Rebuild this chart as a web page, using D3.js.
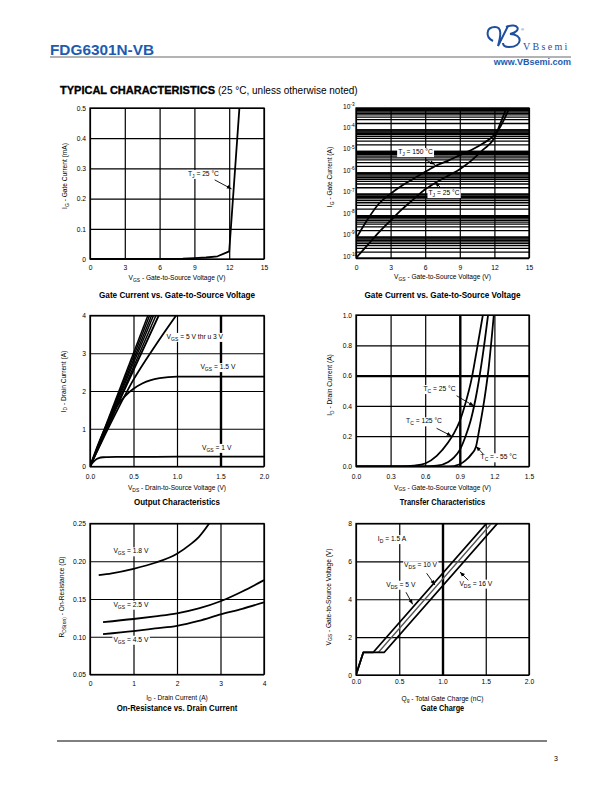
<!DOCTYPE html>
<html>
<head>
<meta charset="utf-8">
<script src="https://cdn.jsdelivr.net/npm/d3@7"></script>
<style>
  body { margin: 0; background: #fff; }
  svg { font-family: "Liberation Sans", Arial, Helvetica, sans-serif; }
</style>
</head>
<body>
<svg id="page" width="612" height="792"></svg>
<script>
// ---- gate current, linear (mA)
var gcVgs = [0, 3, 6, 8, 9, 10, 11, 12, 12.4, 12.88];
var gcIg = [0, 0, 0.0005, 0.0015, 0.003, 0.005, 0.009, 0.025, 0.24, 0.5];
var gcXTicks = [0, 3, 6, 9, 12, 15];
var gcXLabels = ["0", "3", "6", "9", "12", "15"];
var gcYTicks = [0, 0.1, 0.2, 0.3, 0.4, 0.5];
var gcYLabels = ["0", "0.1", "0.2", "0.3", "0.4", "0.5"];

// ---- gate current, log (A)
var glVgs25 = [0, 1, 2, 3, 4, 5, 6, 7, 8, 9, 10, 11, 12, 12.5, 13.05];
var glIg25 = [1e-10, 4e-10, 1.6e-9, 5.6e-9, 1.9e-8, 5.6e-8, 1.6e-7, 3.5e-7, 7e-7, 1.4e-6, 3.5e-6, 1.1e-5, 4e-5, 1.8e-4, 1e-3];
var glVgs150 = [0, 1, 2, 3, 4, 5, 6, 7, 8, 9, 10, 11, 12, 12.5, 13.3];
var glIg150 = [8e-10, 6.3e-9, 3.5e-8, 1e-7, 2.4e-7, 5e-7, 1.05e-6, 2.1e-6, 3.5e-6, 6.3e-6, 1.1e-5, 2.2e-5, 5.6e-5, 1.3e-4, 1e-3];
var glYTicks = [1e-10, 1e-9, 1e-8, 1e-7, 1e-6, 1e-5, 1e-4, 1e-3];
var glYLabels = ["10^{-10}", "10^{-9}", "10^{-8}", "10^{-7}", "10^{-6}", "10^{-5}", "10^{-4}", "10^{-3}"];

// ---- output characteristics
var ocVds5 = [0, 0.665], ocId5 = [0, 4];
var ocVds45 = [0, 0.685], ocId45 = [0, 4];
var ocVds4 = [0, 0.708], ocId4 = [0, 4];
var ocVds35 = [0, 0.73], ocId35 = [0, 4];
var ocVds3 = [0, 0.758], ocId3 = [0, 4];
var ocVds25 = [0, 0.4, 0.79], ocId25 = [0, 2.05, 4];
var ocVds2 = [0, 0.25, 0.5, 0.75, 0.99], ocId2 = [0, 1.2, 2.3, 3.2, 4];
var ocVds15 = [0, 0.1, 0.2, 0.3, 0.4, 0.5, 0.6, 0.7, 0.8, 0.9, 1.0, 1.5, 2.0];
var ocId15 = [0, 0.62, 1.15, 1.57, 1.86, 2.06, 2.2, 2.29, 2.34, 2.37, 2.38, 2.38, 2.38];
var ocVds1 = [0, 0.03, 0.06, 0.1, 0.15, 0.2, 0.3, 0.5, 1.0, 1.5, 2.0];
var ocId1 = [0, 0.1, 0.17, 0.22, 0.245, 0.25, 0.255, 0.255, 0.26, 0.26, 0.26];
var ocXTicks = [0, 0.5, 1, 1.5, 2];
var ocXLabels = ["0.0", "0.5", "1.0", "1.5", "2.0"];
var ocYTicks = [0, 1, 2, 3, 4];
var ocYLabels = ["0", "1", "2", "3", "4"];

// ---- transfer characteristics
var tcVgs125 = [0, 0.4, 0.5, 0.6, 0.7, 0.8, 0.85, 0.9, 0.95, 1.0, 1.05, 1.1];
var tcId125 = [0, 0, 0.005, 0.02, 0.07, 0.16, 0.22, 0.3, 0.42, 0.57, 0.78, 1.0];
var tcVgs25 = [0, 0.6, 0.7, 0.8, 0.85, 0.9, 0.95, 1.0, 1.05, 1.1, 1.145];
var tcId25 = [0, 0, 0.005, 0.03, 0.06, 0.11, 0.2, 0.32, 0.5, 0.74, 1.0];
var tcVgsM55 = [0, 0.8, 0.9, 0.95, 1.0, 1.04, 1.07, 1.1, 1.15, 1.195];
var tcIdM55 = [0, 0, 0.015, 0.04, 0.08, 0.13, 0.25, 0.38, 0.65, 1.0];
var tcXTicks = [0, 0.3, 0.6, 0.9, 1.2, 1.5];
var tcXLabels = ["0.0", "0.3", "0.6", "0.9", "1.2", "1.5"];
var tcYTicks = [0, 0.2, 0.4, 0.6, 0.8, 1.0];
var tcYLabels = ["0.0", "0.2", "0.4", "0.6", "0.8", "1.0"];

// ---- on-resistance vs drain current
var orId18 = [0.2, 0.5, 1.0, 1.5, 2.0, 2.3, 2.5, 2.74];
var orR18 = [0.1815, 0.184, 0.19, 0.198, 0.21, 0.222, 0.232, 0.25];
var orId25 = [0.3, 1, 1.5, 2, 2.5, 3, 3.5, 4];
var orR25 = [0.1195, 0.1235, 0.127, 0.131, 0.1375, 0.147, 0.16, 0.175];
var orId45 = [0.3, 1, 1.5, 2, 2.5, 3, 3.5, 4];
var orR45 = [0.1035, 0.1075, 0.111, 0.1145, 0.121, 0.1295, 0.137, 0.1455];
var orXTicks = [0, 1, 2, 3, 4];
var orXLabels = ["0", "1", "2", "3", "4"];
var orYTicks = [0.05, 0.10, 0.15, 0.20, 0.25];
var orYLabels = ["0.05", "0.10", "0.15", "0.20", "0.25"];

// ---- gate charge
var qgQ5 = [0, 0.085, 0.2, 1.508], qgV5 = [0, 1.2, 1.2, 8];
var qgQ10 = [0, 0.085, 0.26, 1.565], qgV10 = [0, 1.2, 1.2, 8];
var qgQ16 = [0, 0.085, 0.327, 1.635], qgV16 = [0, 1.2, 1.2, 8];
var qgXTicks = [0, 0.5, 1, 1.5, 2];
var qgXLabels = ["0.0", "0.5", "1.0", "1.5", "2.0"];
var qgYTicks = [0, 2, 4, 6, 8];
var qgYLabels = ["0", "2", "4", "6", "8"];

var blue = "#1d5bb0";
var svg = d3.select("#page");

// arrowhead
svg.append("defs").append("marker")
  .attr("id", "arr").attr("viewBox", "0 0 10 10")
  .attr("refX", 10).attr("refY", 5)
  .attr("markerWidth", 5).attr("markerHeight", 5)
  .attr("markerUnits", "userSpaceOnUse")
  .attr("orient", "auto")
  .append("path").attr("d", "M0,1 L10,5 L0,9 Z").attr("fill", "#000");

// text with _{sub} and ^{sup}
function rich(sel, str, size) {
  var off = 0;
  str.split(/(_\{[^}]*\}|\^\{[^}]*\})/).forEach(function (p) {
    if (!p) return;
    var d = 0, s = size, t = p;
    if (p[0] === "_") { d = size * 0.3; s = size * 0.75; t = p.slice(2, -1); }
    if (p[0] === "^") { d = -size * 0.4; s = size * 0.72; t = p.slice(2, -1); }
    sel.append("tspan").attr("dy", d - off).attr("font-size", s).text(t);
    off = d;
  });
}

function zip(xs, ys) {
  return xs.map(function (v, i) { return [v, ys[i]]; });
}

// ---- header
svg.append("text").attr("x", 50).attr("y", 55)
  .attr("font-size", 15.5).attr("font-weight", "bold").attr("fill", blue)
  .attr("textLength", 104).attr("lengthAdjust", "spacingAndGlyphs")
  .text("FDG6301N-VB");
svg.append("line").attr("x1", 50).attr("x2", 571).attr("y1", 57).attr("y2", 57)
  .attr("stroke", "#9a9a9a").attr("stroke-width", 1.5);
svg.append("path")
  .attr("d", "M493,41 C485,37 486,27 495,27 C502,27 501,35 498,46 L508,26")
  .attr("fill", "none").attr("stroke", "#1d4f9c").attr("stroke-width", 2);
svg.append("path")
  .attr("d", "M506,27 C518,22 523,31 510,34 C523,34 523,47 509,47 C505,47 503,45 503,43")
  .attr("fill", "none").attr("stroke", "#1d4f9c").attr("stroke-width", 2);
svg.append("text").attr("x", 523).attr("y", 50)
  .attr("font-family", "'Liberation Serif', 'DejaVu Serif', serif")
  .attr("font-size", 10).attr("letter-spacing", 2.3).attr("fill", "#1d4f9c")
  .text("VBsemi");
svg.append("text").attr("x", 521).attr("y", 31).attr("font-size", 4).attr("fill", "#1d4f9c").text("®");
svg.append("text").attr("x", 571).attr("y", 65).attr("text-anchor", "end")
  .attr("font-size", 9).attr("font-weight", "bold").attr("fill", blue)
  .text("www.VBsemi.com");

var hdr = svg.append("text").attr("x", 60).attr("y", 94).attr("font-size", 10);
hdr.append("tspan").attr("font-weight", "bold").attr("textLength", 155)
  .attr("lengthAdjust", "spacingAndGlyphs").attr("stroke", "#000").attr("stroke-width", 0.3)
  .text("TYPICAL CHARACTERISTICS");
hdr.append("tspan").attr("x", 218).text("(25 °C, unless otherwise noted)");

// footer
svg.append("line").attr("x1", 57).attr("x2", 547).attr("y1", 741).attr("y2", 741)
  .attr("stroke", "#000").attr("stroke-width", 1);
svg.append("text").attr("x", 556).attr("y", 761).attr("text-anchor", "middle")
  .attr("font-size", 7).text("3");

// ---- chart builder
function drawChart(c) {
  var g = svg.append("g");
  var bottom = c.top + c.height;
  var x = d3.scaleLinear().domain(c.xDomain).range([c.left, c.left + c.width]);
  var y = (c.log ? d3.scaleLog() : d3.scaleLinear()).domain(c.yDomain).range([bottom, c.top]);
  var thickX = c.thickX || [], thickY = c.thickY || [];

  if (c.log) {
    g.append("g").attr("transform", "translate(" + c.left + ",0)")
      .call(d3.axisLeft(y).tickValues(y.ticks()).tickSize(-c.width).tickFormat(""))
      .call(function (a) { a.select(".domain").remove(); })
      .selectAll("line").attr("stroke", "#000").attr("stroke-width", 1.3);
  }

  var xa = g.append("g").attr("transform", "translate(0," + bottom + ")")
    .call(d3.axisBottom(x).tickValues(c.xTicks).tickSize(-c.height)
      .tickFormat(function (d, i) { return c.xLabels[i]; }))
    .attr("font-family", null).attr("font-size", null);
  xa.select(".domain").remove();
  xa.selectAll("line").attr("stroke", "#000")
    .attr("stroke-width", function (d) { return thickX.indexOf(d) >= 0 ? 2.4 : 1.2; });
  xa.selectAll("text").attr("dy", null).attr("y", c.xLabelY)
    .attr("font-size", 6.7).attr("fill", "#000");

  var ya = g.append("g").attr("transform", "translate(" + c.left + ",0)")
    .call(d3.axisLeft(y).tickValues(c.yTicks).tickSize(-c.width).tickPadding(4)
      .tickFormat(c.log ? "" : function (d, i) { return c.yLabels[i]; }))
    .attr("font-family", null).attr("font-size", null);
  ya.select(".domain").remove();
  ya.selectAll("line").attr("stroke", "#000")
    .attr("stroke-width", function (d) { return thickY.indexOf(d) >= 0 ? 2.4 : 1.2; });
  ya.selectAll("text").attr("font-size", 6.7).attr("fill", "#000").attr("dy", "0.35em");
  if (c.log) {
    ya.selectAll("text").attr("text-anchor", "start").attr("x", -13).attr("dy", "0.2em")
      .each(function (d, i) { rich(d3.select(this), c.yLabels[i], 6.6); });
  }

  var clipId = "clip" + c.id;
  svg.select("defs").append("clipPath").attr("id", clipId)
    .append("rect").attr("x", c.left).attr("y", c.top).attr("width", c.width).attr("height", c.height);

  var line = d3.line()
    .x(function (d) { return x(d[0]); })
    .y(function (d) { return y(d[1]); })
    .curve(c.curve || d3.curveMonotoneX);

  g.append("g").attr("clip-path", "url(#" + clipId + ")")
    .selectAll("path").data(c.series).enter().append("path")
    .attr("d", function (s) { return line(s.pts); })
    .attr("fill", "none")
    .attr("stroke", function (s) { return s.color || "#000"; })
    .attr("stroke-width", function (s) { return s.w || 1.8; })
    .attr("stroke-linejoin", "round");

  g.append("rect").attr("x", c.left).attr("y", c.top)
    .attr("width", c.width).attr("height", c.height)
    .attr("fill", "none").attr("stroke", "#000").attr("stroke-width", 1.3);

  (c.notes || []).forEach(function (n) {
    var t = g.append("text").attr("x", x(n.at[0])).attr("y", y(n.at[1]))
      .attr("text-anchor", "middle").attr("dy", "0.35em").attr("font-size", 6.7);
    rich(t, n.text, 6.7);
    var b = t.node().getBBox();
    g.insert("rect", function () { return t.node(); })
      .attr("x", b.x - 1).attr("y", b.y).attr("width", b.width + 2).attr("height", b.height)
      .attr("fill", "#fff");
    if (n.from) {
      g.append("line")
        .attr("x1", x(n.from[0])).attr("y1", y(n.from[1]))
        .attr("x2", x(n.to[0])).attr("y2", y(n.to[1]))
        .attr("stroke", "#000").attr("stroke-width", 0.9)
        .attr("marker-end", "url(#arr)");
    }
  });

  // axis titles
  var xt = g.append("text").attr("x", c.left + c.width / 2).attr("y", bottom + c.xTitleY)
    .attr("text-anchor", "middle").attr("font-size", 6.6);
  rich(xt, c.xTitle, 6.6);
  var yt = g.append("text")
    .attr("transform", "translate(" + (c.left + c.yTitleX) + "," + (c.top + c.yTitleY) + ") rotate(-90)")
    .attr("text-anchor", "middle").attr("font-size", 6.6);
  rich(yt, c.yTitle, 6.6);

  g.append("text").attr("x", c.left + c.width / 2).attr("y", c.titleY)
    .attr("text-anchor", "middle").attr("font-size", 8.3).attr("font-weight", "bold")
    .attr("textLength", c.titleW).attr("lengthAdjust", "spacingAndGlyphs")
    .text(c.title);
}

var L = 90, LW = 174, R = 356, RW = 173, H = 151;

drawChart({
  id: 1, left: L, top: 108, width: LW, height: H,
  xDomain: [0, 15], yDomain: [0, 0.5],
  xTicks: gcXTicks, xLabels: gcXLabels, yTicks: gcYTicks, yLabels: gcYLabels,
  curve: d3.curveLinear,
  series: [{ pts: zip(gcVgs, gcIg) }],
  notes: [{ text: "T_{J} = 25 °C", at: [9.78, 0.275], from: [10.75, 0.262], to: [12.2, 0.232] }],
  xLabelY: 11, xTitleY: 21, xTitle: "V_{GS} - Gate-to-Source Voltage (V)",
  yTitleX: -23, yTitleY: 68, yTitle: "I_{G} - Gate Current (mA)",
  title: "Gate Current vs. Gate-to-Source Voltage", titleY: 297.5, titleW: 156
});

drawChart({
  id: 2, left: R, top: 108, width: RW, height: 150, log: true,
  xDomain: [0, 15], yDomain: [1e-10, 1e-3],
  xTicks: gcXTicks, xLabels: gcXLabels, yTicks: glYTicks, yLabels: glYLabels,
  series: [{ pts: zip(glVgs150, glIg150) }, { pts: zip(glVgs25, glIg25) }],
  notes: [
    { text: "T_{J} = 150 °C", at: [5.16, 7.1e-6], from: [6.07, 3.7e-6], to: [6.85, 2.3e-6] },
    { text: "T_{J} = 25 °C", at: [7.63, 8.7e-8], from: [7.34, 1.9e-7], to: [6.85, 3.5e-7] }
  ],
  xLabelY: 11.5, xTitleY: 21, xTitle: "V_{GS} - Gate-to-Source Voltage (V)",
  yTitleX: -24, yTitleY: 69, yTitle: "I_{G} - Gate Current (A)",
  title: "Gate Current vs. Gate-to-Source Voltage", titleY: 297.5, titleW: 156
});

drawChart({
  id: 3, left: L, top: 315.5, width: LW, height: H,
  xDomain: [0, 2], yDomain: [0, 4],
  xTicks: ocXTicks, xLabels: ocXLabels, yTicks: ocYTicks, yLabels: ocYLabels,
  thickX: [1.5],
  series: [
    { pts: zip(ocVds5, ocId5), w: 1.5 }, { pts: zip(ocVds45, ocId45), w: 1.5 },
    { pts: zip(ocVds4, ocId4), w: 1.5 }, { pts: zip(ocVds35, ocId35), w: 1.5 },
    { pts: zip(ocVds3, ocId3), w: 1.5 }, { pts: zip(ocVds25, ocId25) },
    { pts: zip(ocVds2, ocId2) }, { pts: zip(ocVds15, ocId15) }, { pts: zip(ocVds1, ocId1) }
  ],
  notes: [
    { text: "V_{GS} = 5 V thr u 3 V", at: [1.205, 3.38] },
    { text: "V_{GS} = 1.5 V", at: [1.47, 2.58] },
    { text: "V_{GS} = 1 V", at: [1.456, 0.44] }
  ],
  xLabelY: 12.5, xTitleY: 23.5, xTitle: "V_{DS} - Drain-to-Source Voltage (V)",
  yTitleX: -24.5, yTitleY: 66, yTitle: "I_{D} - Drain Current (A)",
  title: "Output Characteristics", titleY: 505, titleW: 86
});

drawChart({
  id: 4, left: R, top: 315, width: RW, height: 151.5,
  xDomain: [0, 1.5], yDomain: [0, 1],
  xTicks: tcXTicks, xLabels: tcXLabels, yTicks: tcYTicks, yLabels: tcYLabels,
  thickX: [0.9], thickY: [0.6],
  series: [{ pts: zip(tcVgs125, tcId125) }, { pts: zip(tcVgs25, tcId25) }, { pts: zip(tcVgsM55, tcIdM55) }],
  notes: [
    { text: "T_{C} = 25 °C", at: [0.724, 0.498], from: [0.872, 0.467], to: [1.023, 0.399] },
    { text: "T_{C} = 125 °C", at: [0.59, 0.285], from: [0.699, 0.252], to: [0.829, 0.201] },
    { text: "T_{C} = - 55 °C", at: [1.237, 0.0475], from: [1.103, 0.0825], to: [1.04, 0.133] }
  ],
  xLabelY: 12, xTitleY: 23, xTitle: "V_{GS} - Gate-to-Source Voltage (V)",
  yTitleX: -24, yTitleY: 70, yTitle: "I_{D} - Drain Current (A)",
  title: "Transfer Characteristics", titleY: 505, titleW: 85.3
});

drawChart({
  id: 5, left: L, top: 523.5, width: LW, height: H,
  xDomain: [0, 4], yDomain: [0.05, 0.25],
  xTicks: orXTicks, xLabels: orXLabels, yTicks: orYTicks, yLabels: orYLabels,
  series: [{ pts: zip(orId18, orR18) }, { pts: zip(orId25, orR25) }, { pts: zip(orId45, orR45) }],
  notes: [
    { text: "V_{GS} = 1.8 V", at: [0.94, 0.2105] },
    { text: "V_{GS} = 2.5 V", at: [0.94, 0.1398] },
    { text: "V_{GS} = 4.5 V", at: [0.94, 0.0934] }
  ],
  xLabelY: 11, xTitleY: 25, xTitle: "I_{D} - Drain Current (A)",
  yTitleX: -26, yTitleY: 73.5, yTitle: "R_{DS(on)} - On-Resistance (Ω)",
  title: "On-Resistance vs. Drain Current", titleY: 711, titleW: 120.7
});

drawChart({
  id: 6, left: R, top: 523.5, width: RW, height: 151.5,
  xDomain: [0, 2], yDomain: [0, 8],
  xTicks: qgXTicks, xLabels: qgXLabels, yTicks: qgYTicks, yLabels: qgYLabels,
  thickX: [1],
  curve: d3.curveLinear,
  series: [{ pts: zip(qgQ5, qgV5) }, { pts: zip(qgQ10, qgV10), color: "#555", w: 1.3 }, { pts: zip(qgQ16, qgV16) }],
  notes: [
    { text: "I_{D} = 1.5 A", at: [0.416, 7.07] },
    { text: "V_{DS} = 10 V", at: [0.746, 5.69], from: [0.817, 5.37], to: [0.913, 4.75] },
    { text: "V_{DS} = 5 V", at: [0.518, 4.66], from: [0.578, 4.37], to: [0.655, 3.73] },
    { text: "V_{DS} = 16 V", at: [1.385, 4.72], from: [1.298, 5.0], to: [1.202, 5.44] }
  ],
  xLabelY: 9, xTitleY: 25.5, xTitle: "Q_{g} - Total Gate Charge (nC)",
  yTitleX: -25.5, yTitleY: 73.5, yTitle: "V_{GS} - Gate-to-Source Voltage (V)",
  title: "Gate Charge", titleY: 711, titleW: 43.3
});
</script>
</body>
</html>
